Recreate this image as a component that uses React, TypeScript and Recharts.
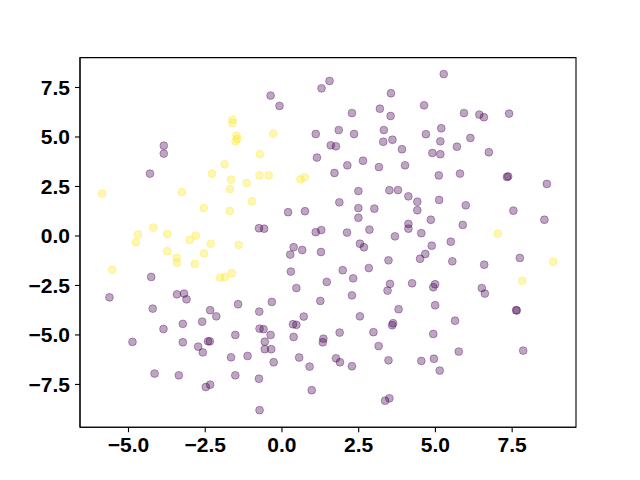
import React from "react";
import { ScatterChart, Scatter, XAxis, YAxis, ZAxis, ReferenceArea } from "recharts";

const xTicks = [-5, -2.5, 0, 2.5, 5, 7.5];
const yTicks = [-7.5, -5, -2.5, 0, 2.5, 5, 7.5];
const xDomain: [number, number] = [-6.58, 9.58];
const yDomain: [number, number] = [-9.66, 9.01];

const yellowPoints: [number, number][] = [
  [-1.61, 5.87], [-1.61, 5.71], [-1.48, 5.07], [-1.46, 4.9], [-1.51, 4.78], [-1.87, 3.62],
  [-2.28, 3.15], [-1.66, 2.84], [-1.15, 2.68], [-1.69, 2.37], [-5.86, 2.14], [-3.26, 2.21],
  [-2.55, 1.41], [-1.7, 1.26], [-0.98, 1.75], [-4.19, 0.42], [-4.69, 0.07], [-4.76, -0.32],
  [-3.74, 0.1], [-2.81, 0.02], [-3.0, -0.2], [-2.32, -0.39], [-1.41, -0.45], [-3.74, -0.77],
  [-3.43, -1.1], [-3.42, -1.35], [-2.54, -0.88], [-2.84, -1.41], [-5.53, -1.7], [-2.02, -2.11],
  [-1.86, -2.07], [-1.63, -1.88], [-0.28, 5.17], [-0.72, 4.13], [-0.73, 3.06], [-0.43, 3.06],
  [0.6, 2.86], [0.74, 2.96], [7.03, 0.12], [8.84, -1.3], [7.83, -2.26],
];

const purplePoints: [number, number][] = [
  [-3.85, 4.56], [-3.85, 4.16], [-4.3, 3.15],
  [-4.26, -2.07], [-5.62, -3.1], [-3.42, -2.95], [-3.19, -2.91], [-3.11, -3.2], [-4.21, -3.67],
  [-1.43, -3.45], [-2.34, -3.75], [-2.14, -4.06], [-2.6, -4.33], [-3.23, -4.44], [-3.86, -4.7],
  [-4.87, -5.35], [-3.23, -5.37], [-2.41, -5.32], [-2.35, -5.32], [-2.73, -5.59], [-2.58, -5.88],
  [-1.52, -5.0], [-1.66, -6.13], [-1.12, -6.06], [-4.15, -6.95], [-3.36, -7.04], [-1.52, -7.04],
  [-2.48, -7.63], [-2.34, -7.51],
  [-0.37, 7.09], [-0.08, 6.57], [1.29, 7.46], [1.55, 7.83], [3.55, 7.21], [2.28, 6.21],
  [3.19, 6.43], [3.54, 6.06], [1.1, 5.15], [1.85, 5.35], [2.35, 5.15], [3.32, 5.35],
  [3.3, 4.76], [3.6, 4.86], [1.59, 4.58], [1.76, 4.53], [3.91, 4.38], [1.14, 3.96],
  [2.64, 3.8], [2.13, 3.57], [3.16, 3.48], [4.01, 3.57], [1.71, 3.18], [2.49, 2.27],
  [3.5, 2.31], [3.78, 2.32], [4.12, 2.0], [1.87, 1.7], [2.49, 1.41], [2.49, 0.92],
  [3.01, 1.38], [0.2, 1.2], [0.75, 1.25], [4.12, 0.61], [4.12, 0.37], [-0.75, 0.39],
  [-0.58, 0.37], [1.1, 0.19], [1.28, 0.3], [2.12, 0.17], [2.85, 0.32], [3.68, -0.02],
  [2.54, -0.39], [2.67, -0.57], [0.38, -0.57], [0.66, -0.71], [0.27, -0.94], [1.27, -0.81],
  [3.47, -1.23], [2.83, -1.62], [1.98, -1.73], [0.29, -1.8], [2.32, -2.14], [1.46, -2.32],
  [3.52, -2.42], [3.44, -2.76], [4.24, -2.39], [0.47, -2.63], [2.28, -3.0], [1.25, -3.28],
  [-0.33, -3.33], [-0.74, -3.82], [3.8, -3.7], [0.71, -4.07], [2.54, -4.06], [0.36, -4.46],
  [0.47, -4.49], [3.62, -4.41], [3.59, -4.51], [-0.73, -4.68], [-0.6, -4.71], [-0.37, -5.0],
  [0.38, -5.1], [1.88, -4.88], [2.98, -4.86], [-0.56, -5.34], [-0.56, -5.72], [-0.35, -5.72],
  [1.35, -5.19], [1.33, -5.37], [3.15, -5.56], [-0.27, -6.38], [0.56, -6.14], [0.9, -6.6],
  [1.76, -6.18], [1.89, -6.38], [2.28, -6.58], [3.47, -6.28], [-0.75, -7.21], [0.97, -7.79],
  [3.36, -8.32], [3.5, -8.2], [-0.73, -8.8],
  [5.27, 8.18], [4.63, 6.6], [5.93, 6.21], [6.43, 6.13], [6.58, 6.0], [7.4, 6.18],
  [5.19, 5.44], [4.69, 5.14], [5.16, 4.78], [6.14, 4.95], [5.7, 4.51], [4.9, 4.19],
  [5.16, 4.13], [6.74, 4.23], [5.11, 3.06], [5.8, 3.15], [7.33, 2.98], [7.37, 3.01],
  [8.63, 2.63], [4.41, 1.73], [4.41, 1.3], [5.12, 1.82], [5.99, 1.55], [7.54, 1.28],
  [4.85, 0.82], [5.89, 0.56], [8.55, 0.82], [4.54, 0.14], [5.5, -0.29], [4.88, -0.49],
  [4.67, -0.91], [4.5, -1.15], [5.55, -1.28], [6.59, -1.45], [7.75, -1.11], [4.99, -2.44],
  [4.93, -2.59], [6.51, -2.63], [6.61, -2.91], [4.99, -3.5], [7.63, -3.75], [7.65, -3.76],
  [5.64, -4.28], [4.93, -4.95], [5.76, -5.84], [7.86, -5.79], [4.54, -6.31], [4.95, -6.2],
  [5.14, -6.8],
];

const purpleData = purplePoints.map(([x, y]) => ({ x, y }));
const yellowData = yellowPoints.map(([x, y]) => ({ x, y }));

const fmt = (v: number) => {
  const s = Math.abs(v).toFixed(1);
  return v < 0 ? "\u2212" + s : s;
};

const tickStyle = {
  fontFamily: "'Liberation Sans', Arial, sans-serif",
  fontWeight: 700,
  fontSize: 21,
  fill: "#000",
};

const makeDot = (color: string) => (props: any) => {
  const { cx, cy } = props;
  if (cx == null || cy == null) return <g />;
  return (
    <circle
      cx={cx}
      cy={cy}
      r={3.9}
      fill={color}
      fillOpacity={0.35}
      stroke={color}
      strokeOpacity={0.35}
      strokeWidth={1}
    />
  );
};

export default function App() {
  return (
    <div style={{ position: "absolute", left: 0, top: 0, width: 640, height: 480, background: "#fff" }}>
      <ScatterChart
        width={640}
        height={480}
        margin={{ top: 57.6, right: 64, bottom: 22.8, left: 30 }}
      >
        <XAxis
          type="number"
          dataKey="x"
          domain={xDomain}
          ticks={xTicks}
          allowDataOverflow
          tickFormatter={fmt}
          height={30}
          tick={tickStyle}
          tickSize={5}
          tickMargin={5}
          axisLine={{ stroke: "#000", strokeWidth: 1.1 }}
          tickLine={{ stroke: "#000", strokeWidth: 1.1 }}
        />
        <YAxis
          type="number"
          dataKey="y"
          domain={yDomain}
          ticks={yTicks}
          allowDataOverflow
          tickFormatter={fmt}
          width={50}
          tick={tickStyle}
          tickSize={5}
          tickMargin={5}
          axisLine={{ stroke: "#000", strokeWidth: 1.1 }}
          tickLine={{ stroke: "#000", strokeWidth: 1.1 }}
        />
        <ZAxis range={[50, 50]} />
        <ReferenceArea
          x1={xDomain[0]}
          x2={xDomain[1]}
          y1={yDomain[0]}
          y2={yDomain[1]}
          fill="none"
          fillOpacity={0}
          stroke="#000"
          strokeWidth={1.1}
          strokeOpacity={1}
        />
        <Scatter data={purpleData} shape={makeDot("#440154")} isAnimationActive={false} />
        <Scatter data={yellowData} shape={makeDot("#fde725")} isAnimationActive={false} />
      </ScatterChart>
    </div>
  );
}
